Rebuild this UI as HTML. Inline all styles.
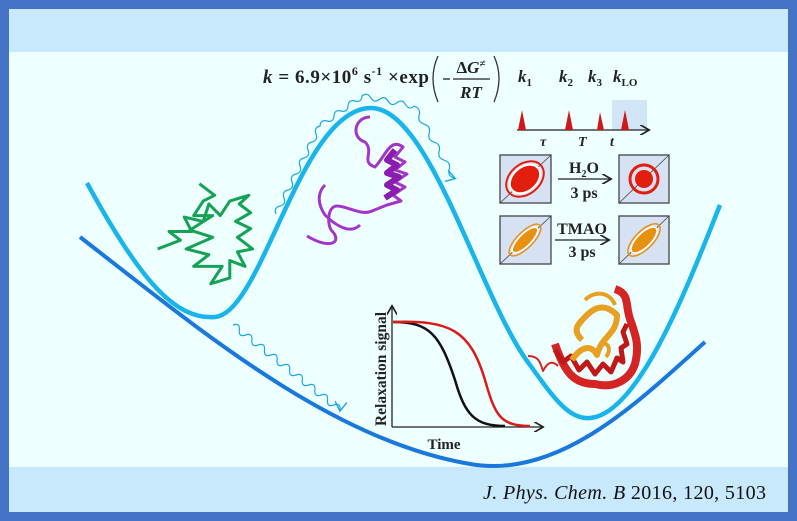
<!DOCTYPE html>
<html><head><meta charset="utf-8"><style>
html,body{margin:0;padding:0}
body{width:797px;height:521px;background:#4472c4;position:relative;overflow:hidden}
#main{position:absolute;left:9px;top:9px;width:779px;height:503px;background:#eeffff}
#top{position:absolute;left:9px;top:9px;width:779px;height:43px;background:#c8e8fc}
#bot{position:absolute;left:9px;top:467px;width:779px;height:45px;background:#c8e8fc}
svg{position:absolute;left:0;top:0}
</style></head><body>
<div id="main"></div><div id="top"></div><div id="bot"></div>
<svg width="797" height="521" viewBox="0 0 797 521" font-family="Liberation Serif, serif">
<defs><marker id="ar" markerWidth="8" markerHeight="8" refX="6" refY="4" orient="auto"><path d="M0,0 L7,4 L0,8" fill="none" stroke="#222" stroke-width="1.3"/></marker>
<marker id="arb" markerWidth="10" markerHeight="10" refX="7" refY="5" orient="auto"><path d="M0,0 L8,5 L0,10" fill="none" stroke="#1aa8e0" stroke-width="1.2"/></marker></defs>
<!-- energy curves -->
<path d="M80,237 C200,330 330,440 470,464 C560,480 640,400 705,342" fill="none" stroke="#1a78dc" stroke-width="4"/>
<path d="M87,183 C140,280 175,320 215,317 C262,314 300,110 370,108 C430,106 480,300 530,365 C555,400 570,420 590,418 C640,414 690,280 720,205" fill="none" stroke="#18b4ea" stroke-width="4.5"/>
<!-- wavy arrows -->
<path d="M276,214 q-2.5,-6.2 4,-8 t4,-8 t4,-8 t4,-8 t4,-8 t4,-8 t4,-8 t4,-8 t4,-8 t4,-8 t4,-8 q0.5,-6.7 7,-5 t7,-5 t7,-5 t7,-5 t7,-5 t7,-5 q5.3,-4.2 8.7,1.7 t8.7,1.7 t8.7,1.7 t8.7,1.7 t8.7,1.7 t8.7,1.7 q6.9,2.1 5,9 t5,9 t5,9 t5,9 t5,9 t5,9 t5,9 t5,9" fill="none" stroke="#1aa8e0" stroke-width="1.2" marker-end="url(#arb)"/>
<path d="M233,325 q7.1,-2.5 6.3,5 t6.3,5 t6.3,5 t6.3,5 t6.3,5 t6.3,5 t6.3,5 t6.3,5 t6.3,5 t6.3,5 t6.3,5 t6.3,5 t6.3,5 t6.3,5 t6.3,5 t6.3,5 t6.3,5" fill="none" stroke="#1aa8e0" stroke-width="1.2" marker-end="url(#arb)"/>
<!-- green unfolded -->
<g transform="translate(207,233) scale(1.9,1.45) translate(-209,-221)">
<path d="M205,187 l8,8 l-6,4 l-5,10 l10,0 l-12,10 l12,5 l-14,8 l12,4 l-8,8 l15,0 l-6,12 l10,-4 l0,-12 l8,4 l-4,-10 l8,-2 l-8,-8 l7,-6 l-8,-5 l8,-6 l-6,-6 l5,-6 l-10,4 l-5,10 l-6,-8 l-3,12 l-10,-3 l4,10 l-12,0 l6,6 l-12,6" fill="none" stroke="#15a255" stroke-width="3" vector-effect="non-scaling-stroke" stroke-linejoin="round"/>
</g>
<!-- purple helix -->
<path d="M370,117 c-15,0 -20,20 -5,25 c10,10 -5,20 10,25 c10,-10 15,-30 28,-20 l-8,10 l10,5 l-10,8 l12,4 l-12,8 l10,5 l-12,8 l8,6 l-14,4 l-15,6 c-10,5 -25,-5 -35,-5 c-10,0 -10,20 -5,25 c10,10 0,20 -25,5 M360,225 c-10,10 -25,0 -35,-10 c-10,-15 -5,-25 0,-30" fill="none" stroke="#a236c8" stroke-width="3" stroke-linejoin="round"/>
<path d="M395,150 l-8,10 l10,5 l-10,8 l12,4 l-12,8 l10,5 l-12,8" fill="none" stroke="#8a1cb0" stroke-width="6" stroke-linejoin="round"/>
<!-- red/orange protein -->
<g fill="none" stroke-linejoin="round">
<path d="M555,344 c10,30 20,40 40,40 c20,5 35,-5 40,-20 c5,-20 0,-30 -5,-45 c-5,-15 0,-25 -15,-30" stroke="#d42424" stroke-width="8"/>
<path d="M555,350 l8,12 l8,-6 l8,14 l8,-8 l8,12 l8,-10 l8,8 l6,-14 l6,4 l-2,-14 l6,-4 l-4,-12 l4,-8" stroke="#c01818" stroke-width="5"/>
<path d="M572,360 c10,-15 20,-15 25,-5 c5,-20 20,-20 20,-40 c-10,-10 -20,-10 -30,0 c-10,10 -15,15 -5,25" stroke="#e8a020" stroke-width="6"/>
<path d="M585,300 c10,-10 25,-8 30,5 M600,345 c8,-5 12,5 6,12" stroke="#e8a020" stroke-width="4"/>
<path d="M528,356 c10,0 12,5 15,15 c5,-10 10,-10 15,-5" stroke="#d42424" stroke-width="2"/>
</g>
<!-- relaxation plot -->
<line x1="392" y1="427" x2="392" y2="307" stroke="#222" stroke-width="1.3" marker-end="url(#ar)"/>
<line x1="392" y1="427" x2="542" y2="427" stroke="#222" stroke-width="1.3" marker-end="url(#ar)"/>
<path d="M393,322 C430,322 440,335 455,380 C465,415 475,426 505,426" fill="none" stroke="#111" stroke-width="2.5"/>
<path d="M393,322 C450,320 470,330 485,380 C495,415 500,426 530,426" fill="none" stroke="#dd1a1a" stroke-width="2.5"/>
<text x="386" y="369" transform="rotate(-90 386 369)" text-anchor="middle" font-size="15.5" font-weight="bold" fill="#222">Relaxation  signal</text>
<text x="444" y="449" text-anchor="middle" font-size="15" font-weight="bold" fill="#222">Time</text>
<!-- equation -->
<text x="263" y="83" font-size="19" font-weight="bold" fill="#222" textLength="166"><tspan font-style="italic">k</tspan> = 6.9×10<tspan dy="-8" font-size="12">6</tspan><tspan dy="8"> s</tspan><tspan dy="-8" font-size="12">-1</tspan><tspan dy="8"> ×exp</tspan></text>
<path d="M438,56 q-10,22 0,46" fill="none" stroke="#333" stroke-width="1.3"/>
<path d="M494,56 q10,22 0,46" fill="none" stroke="#333" stroke-width="1.3"/>
<line x1="443" y1="79" x2="450" y2="79" stroke="#222" stroke-width="1.3"/>
<line x1="453" y1="79" x2="490" y2="79" stroke="#222" stroke-width="1.2"/>
<text x="471" y="73" text-anchor="middle" font-size="17" font-weight="bold" fill="#222">Δ<tspan font-style="italic">G</tspan><tspan dy="-6" font-size="11">≠</tspan></text>
<text x="471" y="98" text-anchor="middle" font-size="17" font-weight="bold" font-style="italic" fill="#222">RT</text>
<!-- k labels -->
<g font-size="17" font-weight="bold" font-style="italic" fill="#222">
<text x="518" y="82">k<tspan font-size="11" dy="4" font-style="normal">1</tspan></text>
<text x="559" y="82">k<tspan font-size="11" dy="4" font-style="normal">2</tspan></text>
<text x="588" y="82">k<tspan font-size="11" dy="4" font-style="normal">3</tspan></text>
<text x="613" y="82">k<tspan font-size="11" dy="4" font-style="normal">LO</tspan></text>
<text x="540" y="146" font-size="14">τ</text><text x="578" y="146" font-size="14">T</text><text x="610" y="146" font-size="14">t</text>
</g>
<rect x="612" y="100" width="35" height="30" fill="#c0d4f0" opacity="0.6"/>
<line x1="517" y1="130" x2="648" y2="130" stroke="#222" stroke-width="1.3" marker-end="url(#ar)"/>
<g fill="#d01818"><path d="M518,130 L522,110 L526,130Z"/><path d="M565,130 L569,110 L573,130Z"/><path d="M597,130 L600,112 L604,130Z"/><path d="M621,130 L625,110 L629,130Z"/></g>
<!-- 2D boxes -->
<g stroke="#444" stroke-width="1.3">
<rect x="500" y="155" width="51" height="48" fill="#d6e2f4"/><rect x="619" y="155" width="50" height="48" fill="#d6e2f4"/>
<rect x="500" y="216" width="51" height="48" fill="#d6e2f4"/><rect x="619" y="216" width="50" height="48" fill="#d6e2f4"/>
<line x1="500" y1="203" x2="551" y2="155" stroke-width="0.8"/><line x1="619" y1="203" x2="669" y2="155" stroke-width="0.8"/>
<line x1="500" y1="264" x2="551" y2="216" stroke-width="0.8"/><line x1="619" y1="264" x2="669" y2="216" stroke-width="0.8"/>
</g>
<ellipse cx="525" cy="179" rx="17" ry="12" transform="rotate(-40 525 179)" fill="#e21e0e" stroke="#fff" stroke-width="2"/>
<ellipse cx="525" cy="179" rx="21" ry="15" transform="rotate(-40 525 179)" fill="none" stroke="#e21e0e" stroke-width="2"/>
<circle cx="644" cy="179" r="9" fill="#e21e0e"/><circle cx="644" cy="179" r="14" fill="none" stroke="#e21e0e" stroke-width="3"/>
<ellipse cx="525" cy="240" rx="17" ry="6" transform="rotate(-45 525 240)" fill="#e89010" stroke="#fff" stroke-width="1.5"/>
<ellipse cx="525" cy="240" rx="21" ry="8" transform="rotate(-45 525 240)" fill="none" stroke="#e89010" stroke-width="1.5"/>
<ellipse cx="644" cy="240" rx="17" ry="7" transform="rotate(-45 644 240)" fill="#e89010" stroke="#fff" stroke-width="1.5"/>
<ellipse cx="644" cy="240" rx="21" ry="9" transform="rotate(-45 644 240)" fill="none" stroke="#e89010" stroke-width="1.5"/>
<line x1="558" y1="179" x2="610" y2="179" stroke="#222" stroke-width="1.3" marker-end="url(#ar)"/>
<line x1="555" y1="240" x2="608" y2="240" stroke="#222" stroke-width="1.3" marker-end="url(#ar)"/>
<g font-size="16" font-weight="bold" fill="#222" text-anchor="middle">
<text x="584" y="173">H<tspan font-size="10" dy="4">2</tspan><tspan dy="-4">O</tspan></text>
<text x="584" y="198">3 ps</text>
<text x="582" y="234">TMAO</text>
<text x="582" y="257">3 ps</text>
</g>
<text x="766" y="499" text-anchor="end" font-size="20" fill="#111" textLength="283"><tspan font-style="italic">J. Phys. Chem. B</tspan> 2016, 120, 5103</text>
</svg>
</body></html>
